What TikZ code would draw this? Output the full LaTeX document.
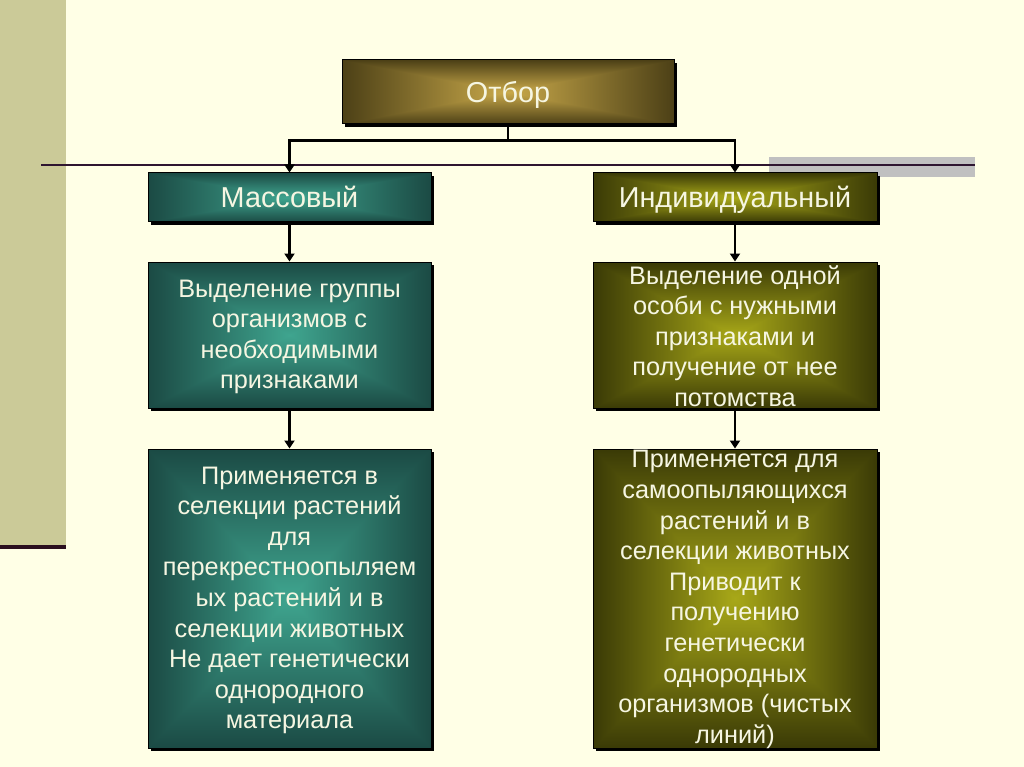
\documentclass[tikz,border=0pt]{standalone}
\usepackage{fontspec}
\setmainfont{Liberation Sans}
\usetikzlibrary{shadows,arrows.meta,calc}
\definecolor{bgcream}{HTML}{FFFFE6}
\definecolor{band}{HTML}{CBCA98}
\definecolor{bandline}{HTML}{2B0F1F}
\definecolor{rule}{HTML}{2E1530}
\definecolor{graybar}{HTML}{C0C0C0}
\definecolor{goldin}{HTML}{C9A94A}
\definecolor{goldout}{HTML}{4C4016}
\definecolor{tealin}{HTML}{3FA58F}
\definecolor{tealout}{HTML}{1B4A44}
\definecolor{olivein}{HTML}{A8A818}
\definecolor{oliveout}{HTML}{3A3A06}
\definecolor{txtc}{HTML}{F6F6E2}
\tikzset{
  rgrad/.style 2 args={path picture={
    \coordinate (pa) at (path picture bounding box.south west);
    \coordinate (pb) at (path picture bounding box.north east);
    \coordinate (pc) at (path picture bounding box.center);
    \shade[bottom color=#2, top color=#1] (pa) rectangle (pc -| pb);
    \shade[top color=#2, bottom color=#1] (pa |- pc) rectangle (pb);
    \begin{scope}\clip (pa) -- (pc) -- (pa |- pb) -- cycle;
      \shade[left color=#2, right color=#1] (pa) rectangle (pc |- pb);\end{scope}
    \begin{scope}\clip (pa -| pb) -- (pc) -- (pb) -- cycle;
      \shade[left color=#1, right color=#2] (pc |- pa) rectangle (pb);\end{scope}
  }},
  box/.style={rectangle, draw=black, line width=1pt, inner sep=0pt,
    drop shadow={shadow xshift=3pt, shadow yshift=-3pt, fill=black, opacity=1},
    text=txtc, font=\fontsize{28.8}{32}\selectfont},
  txt/.style={align=center, text=txtc, inner sep=0pt, font=\fontsize{25.3}{30.6}\selectfont},
  head/.style={text=txtc, inner sep=0pt, text height=20.6pt, text depth=0pt, font=\fontsize{28.8}{32}\selectfont},
  arr/.style={line width=2.5pt, draw=black, -{Triangle[width=10pt,length=8pt]}},
  conn/.style={line width=2.5pt, draw=black}
}
\begin{document}
\begin{tikzpicture}[x=1pt,y=-1pt]
\useasboundingbox (0,0) rectangle (1024,767);
\fill[bgcream] (0,0) rectangle (1024,767);
\fill[band] (0,0) rectangle (66,546);
\fill[bandline] (0,545) rectangle (66,549);
\fill[graybar] (769,157) rectangle (975,177);
\draw[rule, line width=2pt] (41,165) -- (975,165);

\node[box, rgrad={goldin}{goldout}, minimum width=332pt, minimum height=64pt] (top) at (508,92) {};
\node[box, rgrad={tealin}{tealout}, minimum width=283pt, minimum height=49pt] (mass) at (289.5,197.5) {};
\node[box, rgrad={olivein}{oliveout}, minimum width=284pt, minimum height=49pt] (ind) at (735,197.5) {};

\node[head] (ttop) at ($(top.center)+(0,0.5)$) {Отбор};
\node[head] (tmass) at (mass.center) {Массовый};
\node[head] (tind) at (ind.center) {Индивидуальный};

\node[box, rgrad={tealin}{tealout}, minimum width=283pt, minimum height=146pt] (b2l) at (289.5,335) {};
\node[box, rgrad={olivein}{oliveout}, minimum width=284pt, minimum height=146pt] (b2r) at (735,335) {};
\node[box, rgrad={tealin}{tealout}, minimum width=283pt, minimum height=299pt] (b3l) at (289.5,598.5) {};
\node[box, rgrad={olivein}{oliveout}, minimum width=284pt, minimum height=299pt] (b3r) at (735,598.5) {};

\node[txt] (t2l) at ($(b2l.center)+(0,2)$) {Выделение группы\\организмов с\\необходимыми\\признаками};
\node[txt] (t2r) at ($(b2r.center)+(0,1)$) {Выделение одной\\особи с нужными\\признаками и\\получение от нее\\потомства};
\node[txt] (t3l) at ($(b3l.center)+(0,2)$) {Применяется в\\селекции растений\\для\\перекрестноопыляем\\ых растений и в\\селекции животных\\Не дает генетически\\однородного\\материала};
\node[txt] (t3r) at ($(b3r.center)+(0,1)$) {Применяется для\\самоопыляющихся\\растений и в\\селекции животных\\Приводит к\\получению\\генетически\\однородных\\организмов (чистых\\линий)};

\coordinate (j) at ($(top.south)+(0,16)$);
\draw[conn] (top.south) -- (j);
\draw[arr] (j) -| (mass.north);
\draw[arr] (j) -| (ind.north);
\draw[arr] (mass.south) -- (b2l.north);
\draw[arr] (ind.south) -- (b2r.north);
\draw[arr] (b2l.south) -- (b3l.north);
\draw[arr] (b2r.south) -- (b3r.north);
\end{tikzpicture}
\end{document}
